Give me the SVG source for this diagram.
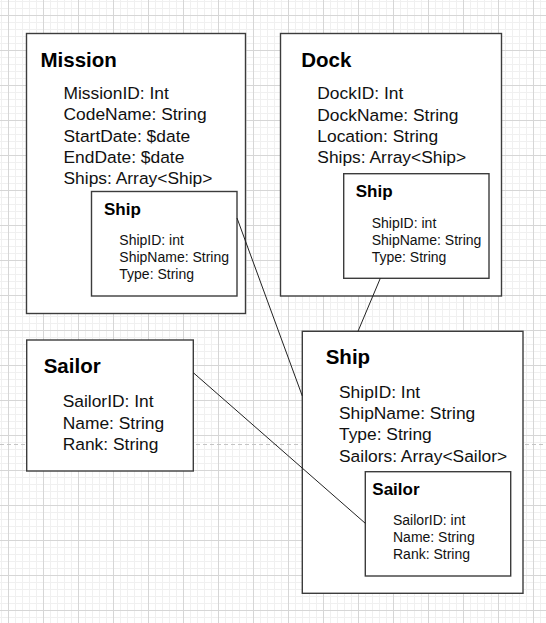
<svg xmlns="http://www.w3.org/2000/svg" width="546" height="623" viewBox="0 0 546 623">
  <style>
    .box { fill: #ffffff; stroke: #3c3c3c; stroke-width: 1.4; }
    .title { font-family: "Liberation Sans", Arial, sans-serif; font-weight: bold; fill: #000; }
    .t1 { font-size: 20.5px; }
    .t2 { font-size: 17px; }
    .attr { font-family: "Liberation Sans", Arial, sans-serif; fill: #111; }
    .a1 { font-size: 17.4px; }
    .a2 { font-size: 14px; }
    .conn { stroke: #222; stroke-width: 1; fill: none; }
  </style>
  <defs>
    <pattern id="grid" x="8" y="15" width="35" height="35" patternUnits="userSpaceOnUse">
      <path d="M7.5 0V35M14.5 0V35M21.5 0V35M28.5 0V35M0 7.5H35M0 14.5H35M0 21.5H35M0 28.5H35" stroke="#f0f0f0" stroke-width="1" fill="none"/>
      <path d="M0.5 0V35M0 0.5H35" stroke="#d6d6d6" stroke-width="1" fill="none"/>
    </pattern>
  </defs>
  <rect width="546" height="623" fill="#ffffff"/>
  <rect width="546" height="623" fill="url(#grid)"/>
  <line x1="0" y1="444.5" x2="546" y2="444.5" stroke="#c4c4c4" stroke-width="1" stroke-dasharray="4,3"/>

  <g id="mission">
    <rect class="box" x="26.5" y="33.5" width="219" height="280"/>
    <text class="title t1" x="40.5" y="67">Mission</text>
    <text class="attr a1" x="63.5" y="99">MissionID: Int</text>
    <text class="attr a1" x="63.5" y="120.3">CodeName: String</text>
    <text class="attr a1" x="63.5" y="141.6">StartDate: $date</text>
    <text class="attr a1" x="63.5" y="162.9">EndDate: $date</text>
    <text class="attr a1" x="63.5" y="184.2">Ships: Array&lt;Ship&gt;</text>
  </g>
  <g id="mission-ship">
    <rect class="box" x="91.5" y="191.5" width="145.5" height="104.5"/>
    <text class="title t2" x="104" y="215">Ship</text>
    <text class="attr a2" x="119.3" y="245">ShipID: int</text>
    <text class="attr a2" x="119.3" y="262">ShipName: String</text>
    <text class="attr a2" x="119.3" y="279">Type: String</text>
  </g>

  <g id="dock">
    <rect class="box" x="280.5" y="33.5" width="221" height="262.5"/>
    <text class="title t1" x="301.3" y="67">Dock</text>
    <text class="attr a1" x="317.3" y="99.3">DockID: Int</text>
    <text class="attr a1" x="317.3" y="120.5">DockName: String</text>
    <text class="attr a1" x="317.3" y="141.7">Location: String</text>
    <text class="attr a1" x="317.3" y="162.9">Ships: Array&lt;Ship&gt;</text>
  </g>
  <g id="dock-ship">
    <rect class="box" x="343.7" y="173.7" width="145.3" height="104.6"/>
    <text class="title t2" x="355.7" y="196.7">Ship</text>
    <text class="attr a2" x="371.7" y="228.3">ShipID: int</text>
    <text class="attr a2" x="371.7" y="245.3">ShipName: String</text>
    <text class="attr a2" x="371.7" y="262.3">Type: String</text>
  </g>

  <g id="sailor">
    <rect class="box" x="26.7" y="340" width="166.6" height="131"/>
    <text class="title t1" x="43.7" y="373.3">Sailor</text>
    <text class="attr a1" x="62.7" y="407.3">SailorID: Int</text>
    <text class="attr a1" x="62.7" y="428.5">Name: String</text>
    <text class="attr a1" x="62.7" y="449.7">Rank: String</text>
  </g>

  <g id="ship">
    <rect class="box" x="302.3" y="331.3" width="220.7" height="262"/>
    <text class="title t1" x="325.7" y="364.3">Ship</text>
    <text class="attr a1" x="339" y="398">ShipID: Int</text>
    <text class="attr a1" x="339" y="419.2">ShipName: String</text>
    <text class="attr a1" x="339" y="440.4">Type: String</text>
    <text class="attr a1" x="339" y="461.6">Sailors: Array&lt;Sailor&gt;</text>
  </g>
  <g id="ship-sailor">
    <rect class="box" x="365.3" y="471.7" width="145.4" height="104.3"/>
    <text class="title t2" x="372.3" y="495">Sailor</text>
    <text class="attr a2" x="393" y="524.7">SailorID: int</text>
    <text class="attr a2" x="393" y="541.7">Name: String</text>
    <text class="attr a2" x="393" y="558.7">Rank: String</text>
  </g>

  <g id="connectors">
    <line class="conn" x1="237" y1="218" x2="302.3" y2="396"/>
    <line class="conn" x1="380.3" y1="278.3" x2="358" y2="331.3"/>
    <line class="conn" x1="193.3" y1="372.7" x2="365.3" y2="523.3"/>
  </g>
</svg>
